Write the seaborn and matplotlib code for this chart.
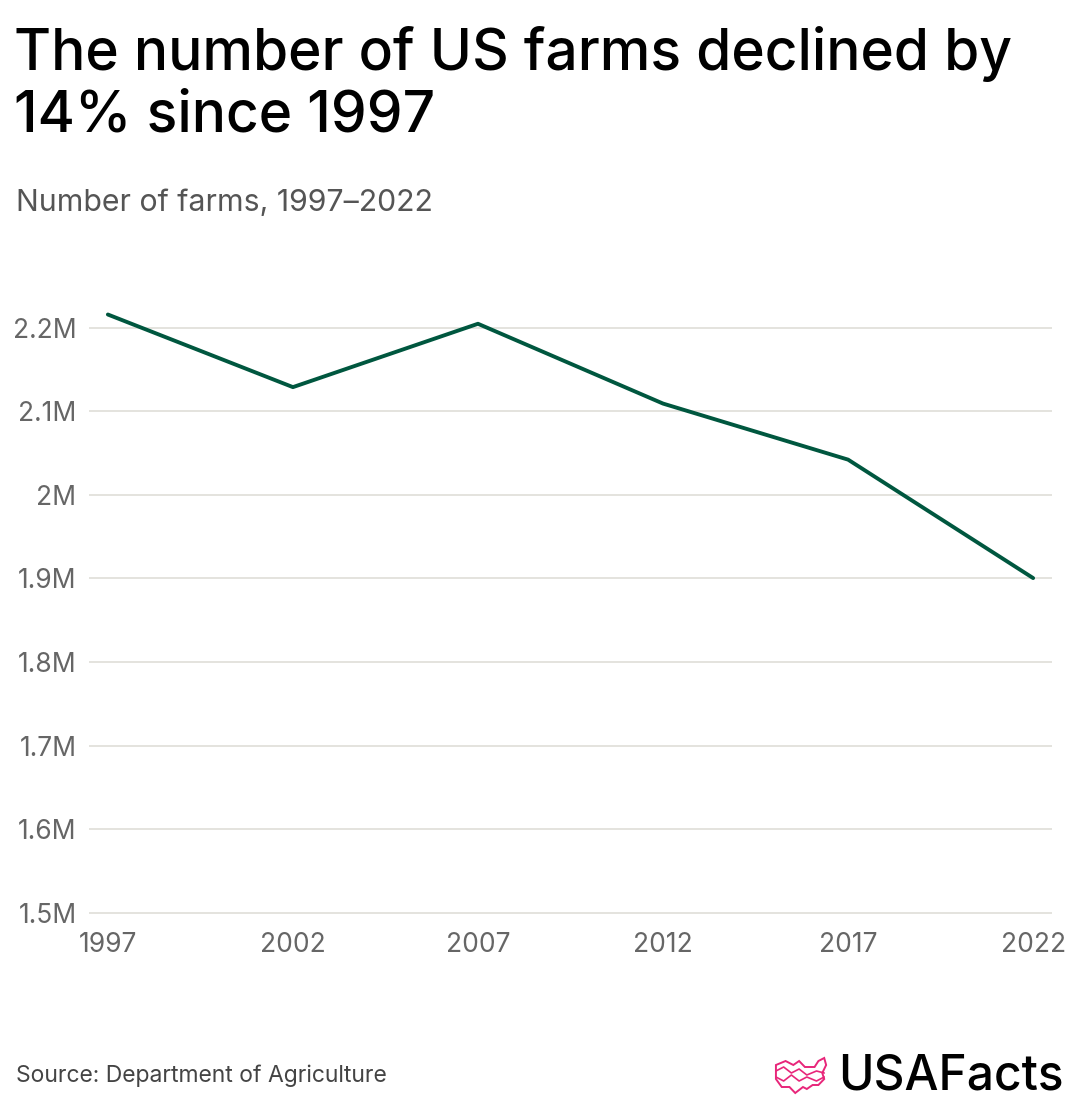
import matplotlib
matplotlib.use("Agg")
import matplotlib.pyplot as plt
import seaborn as sns
import pandas as pd
import numpy as np
from matplotlib.patches import Polygon

years = [1997, 2002, 2007, 2012, 2017, 2022]
farms = [2215876, 2128982, 2204792, 2109303, 2042220, 1900487]
y_ticks = [1.5e6, 1.6e6, 1.7e6, 1.8e6, 1.9e6, 2.0e6, 2.1e6, 2.2e6]
y_labels = ["1.5M", "1.6M", "1.7M", "1.8M", "1.9M", "2M", "2.1M", "2.2M"]

sns.set_theme(style="white")
plt.rcParams['font.family'] = ['Inter', 'DejaVu Sans']

df = pd.DataFrame({"year": years, "farms": farms})

fig = plt.figure(figsize=(10.8, 11.1), dpi=100)
ax = fig.add_axes([89/1080, 1 - 914/1110, (1052-89)/1080, (914-286)/1110])

sns.lineplot(data=df, x="year", y="farms", ax=ax, color="#00573f", linewidth=2.8)

ax.set_xlim(1996.49, 2022.51)
ax.set_ylim(1.4985e6, 2.25e6)
ax.set_yticks(y_ticks)
ax.set_yticklabels(y_labels)
ax.set_xticks(years)
ax.set_xticklabels([str(y) for y in years])
ax.grid(axis="y", color="#dddbd5", linewidth=1.1)
ax.grid(axis="x", visible=False)
for s in ax.spines.values():
    s.set_visible(False)
ax.set_xlabel("")
ax.set_ylabel("")
ax.tick_params(axis="both", length=0, labelsize=19, colors="#666666")
ax.tick_params(axis="y", pad=9)
ax.tick_params(axis="x", pad=13)
ax.set_axisbelow(True)

fig.text(14/1080, 1 - 26/1110, "The number of US farms declined by\n14% since 1997",
         ha="left", va="top", fontsize=41, color="#000000", linespacing=1.17,
         fontweight="medium")
fig.text(16/1080, 1 - 203/1110, "Number of farms, 1997\u20132022",
         ha="left", va="center", fontsize=21.8, color="#555555")
fig.text(16/1080, 1 - 1076/1110, "Source: Department of Agriculture",
         ha="left", va="center", fontsize=16.5, color="#444444")
fig.text(1064/1080, 1 - 1076/1110, "USAFacts", ha="right", va="center",
         fontsize=34.5, color="#000000", fontweight="medium")

# simple logo outline
lax = fig.add_axes([774/1080, 1 - 1097/1110, 56/1080, 42/1110])
lax.set_xlim(0, 58)
lax.set_ylim(42, 0)
lax.axis("off")
outline = [(2, 10), (12, 6), (20, 10), (26, 6), (32, 12), (42, 12), (46, 6), (52, 3),
           (54, 10), (50, 18), (52, 24), (46, 30), (40, 30), (34, 34), (30, 32),
           (22, 38), (16, 32), (8, 32), (2, 24)]
lax.add_patch(Polygon(outline, closed=True, fill=False, edgecolor="#e8267a", linewidth=1.4))
xs = np.array([2, 10, 18, 26, 34, 44, 52])
lax.plot(xs, [16, 12, 18, 14, 20, 16, 18], color="#e8267a", linewidth=1.2)
lax.plot(xs, [22, 26, 20, 26, 22, 26, 22], color="#e8267a", linewidth=1.2)

fig.savefig("out.png", dpi=100, facecolor="white")
